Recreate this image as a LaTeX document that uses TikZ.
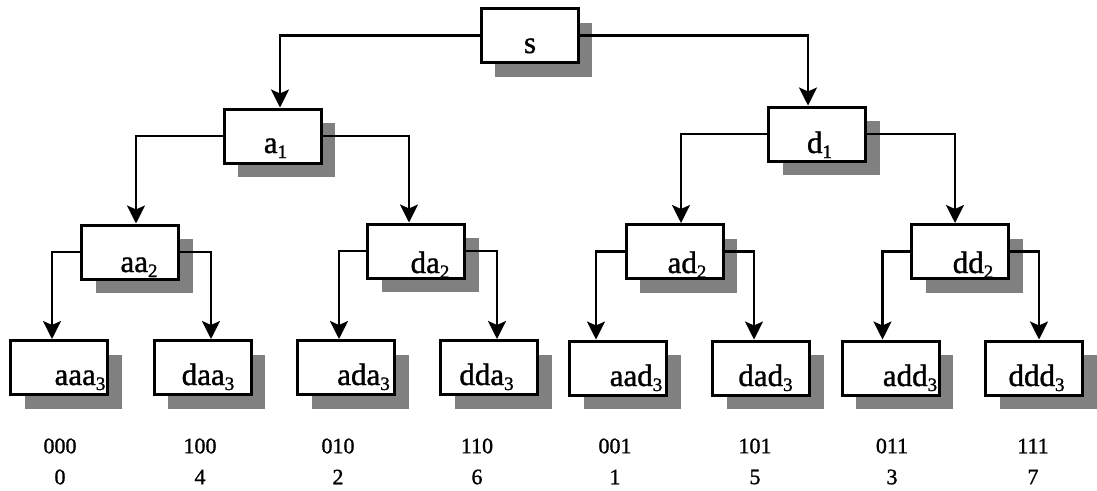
\documentclass[tikz,border=0pt]{standalone}
\usepackage{fontspec}
\setmainfont{Liberation Serif}
\newfontfamily\heavyserif{Liberation Serif}[FakeBold=1.2]
\usetikzlibrary{arrows.meta,shadows}
\newcommand{\sbs}[1]{\raisebox{-5pt}{\fontsize{19}{19}\selectfont #1}}
\tikzset{
  boxnode/.style={draw, line width=3pt, fill=white, minimum width=97pt,
    minimum height=54pt, inner sep=0pt,
    drop shadow={shadow xshift=14pt, shadow yshift=-14pt, fill=black!50, opacity=1}},
  txt/.style={anchor=base, inner sep=0pt, font=\heavyserif\fontsize{31}{36}\selectfont},
  lbl/.style={inner sep=0pt, font=\heavyserif\fontsize{22}{26}\selectfont},
  conn/.style={line width=2.5pt, -{Stealth[length=18pt, width=18pt, inset=4pt]}}
}
\begin{document}
\begin{tikzpicture}[x=1pt,y=-1pt]
\useasboundingbox (0,0) rectangle (1097,490);
% boxes
\node[boxnode] (s)   at (529.5,35.5) {};
\node[boxnode] (a1)  at (272.5,136) {};
\node[boxnode] (d1)  at (817,134) {};
\node[boxnode] (aa2) at (130,252) {};
\node[boxnode] (da2) at (416,251) {};
\node[boxnode] (ad2) at (674.5,251.5) {};
\node[boxnode] (dd2) at (960,251.5) {};
\node[boxnode] (aaa3) at (59,367.5) {};
\node[boxnode] (daa3) at (202.5,367.5) {};
\node[boxnode] (ada3) at (346,367.5) {};
\node[boxnode] (dda3) at (489,367.5) {};
\node[boxnode] (aad3) at (618,368) {};
\node[boxnode] (dad3) at (761,368) {};
\node[boxnode] (add3) at (890.5,368) {};
\node[boxnode] (ddd3) at (1034,368) {};
% texts
\node[txt] (s-t)   at (530,53) {s};
\node[txt] (a1-t)  at (275.5,153) {a\sbs{1}};
\node[txt] (d1-t)  at (819.5,153) {d\sbs{1}};
\node[txt] (aa2-t) at (139,272) {aa\sbs{2}};
\node[txt] (da2-t) at (430,273) {da\sbs{2}};
\node[txt] (ad2-t) at (687,273) {ad\sbs{2}};
\node[txt] (dd2-t) at (973,273) {dd\sbs{2}};
\node[txt] (aaa3-t) at (80,385) {aaa\sbs{3}};
\node[txt] (daa3-t) at (208,385) {daa\sbs{3}};
\node[txt] (ada3-t) at (363.5,385) {ada\sbs{3}};
\node[txt] (dda3-t) at (486.5,385) {dda\sbs{3}};
\node[txt] (aad3-t) at (636,386) {aad\sbs{3}};
\node[txt] (dad3-t) at (765.5,386) {dad\sbs{3}};
\node[txt] (add3-t) at (910,386) {add\sbs{3}};
\node[txt] (ddd3-t) at (1036.5,386) {ddd\sbs{3}};
% connectors
\draw[conn] (s.west) -| ([xshift=7.5pt]a1.north);
\draw[conn] (s.east) -| ([xshift=-9pt]d1.north);
\draw[conn] (a1.west) -| ([xshift=6pt]aa2.north);
\draw[conn] (a1.east) -| ([xshift=-7pt]da2.north);
\draw[conn] (d1.west) -| ([xshift=6.5pt]ad2.north);
\draw[conn] (d1.east) -| ([xshift=-5pt]dd2.north);
\draw[conn] (aa2.west) -| ([xshift=-7pt]aaa3.north);
\draw[conn] (aa2.east) -| ([xshift=8.5pt]daa3.north);
\draw[conn] (da2.west) -| ([xshift=-7pt]ada3.north);
\draw[conn] (da2.east) -| ([xshift=8pt]dda3.north);
\draw[conn] (ad2.west) -| ([xshift=-22pt]aad3.north);
\draw[conn] (ad2.east) -| ([xshift=-7pt]dad3.north);
\draw[conn] (dd2.west) -| ([xshift=-8pt]add3.north);
\draw[conn] (dd2.east) -| ([xshift=5pt]ddd3.north);
% labels
\node[lbl] (b0) at (60,446) {000};   \node[lbl] (n0) at (60,477) {0};
\node[lbl] (b1) at (200,446) {100};  \node[lbl] (n1) at (200,477) {4};
\node[lbl] (b2) at (338,446) {010};  \node[lbl] (n2) at (338,477) {2};
\node[lbl] (b3) at (477,446) {110};  \node[lbl] (n3) at (477,477) {6};
\node[lbl] (b4) at (615,446) {001};  \node[lbl] (n4) at (615,477) {1};
\node[lbl] (b5) at (755,446) {101};  \node[lbl] (n5) at (755,477) {5};
\node[lbl] (b6) at (892,446) {011};  \node[lbl] (n6) at (892,477) {3};
\node[lbl] (b7) at (1033,446) {111}; \node[lbl] (n7) at (1033,477) {7};
\end{tikzpicture}
\end{document}
